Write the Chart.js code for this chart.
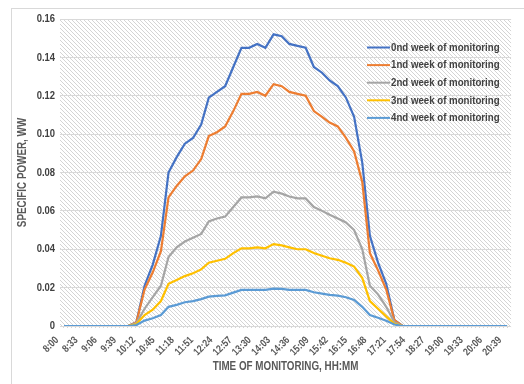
<!DOCTYPE html>
<html>
<head>
<meta charset="utf-8">
<script src="https://cdn.jsdelivr.net/npm/chart.js@4.4.1/dist/chart.umd.min.js"></script>
<style>
  html, body { margin: 0; padding: 0; background: #ffffff; }
  body { width: 524px; height: 384px; position: relative; overflow: hidden; }
  #frame { position: absolute; left: 11px; top: 8px; width: 600px; height: 500px; border: 1px solid #d9d9d9; box-sizing: border-box; }
  #wrap { position: absolute; left: 0; top: 0; width: 524px; height: 384px; }
</style>
</head>
<body>
<div id="frame"></div>
<div id="wrap"><canvas id="chart" width="524" height="384"></canvas></div>
<script>
// Sampling times of the logger (HH:MM)
const times = [
  "8:00","8:14","8:28","8:41","8:55","9:09","9:23","9:37","9:50","10:04",
  "10:18","10:32","10:46","10:59","11:13","11:27","11:41","11:55","12:08","12:22",
  "12:36","12:50","13:04","13:17","13:31","13:45","13:59","14:13","14:26","14:40",
  "14:54","15:08","15:22","15:35","15:49","16:03","16:17","16:31","16:44","16:58",
  "17:12","17:26","17:40","17:53","18:07","18:21","18:35","18:49","19:02","19:16",
  "19:30","19:44","19:58","20:11","20:25","20:39"
];

// Axis labels shown under the chart
const tickLabels = [
  "8:00","8:33","9:06","9:39","10:12","10:45","11:18","11:51","12:24","12:57",
  "13:30","14:03","14:36","15:09","15:42","16:15","16:48","17:21","17:54","18:27",
  "19:00","19:33","20:06","20:39"
];

const seriesNames = [
  "0nd week of monitoring",
  "1nd week of monitoring",
  "2nd week of monitoring",
  "3nd week of monitoring",
  "4nd week of monitoring"
];

// Specific power
const week0 = [0,0,0,0,0,0,0,0,0,
  0.002,0.021,0.032,0.047,0.080,0.088,0.095,0.098,0.105,0.119,0.122,
  0.125,0.135,0.145,0.145,0.147,0.145,0.152,0.151,0.147,0.146,0.145,
  0.135,0.132,0.128,0.125,0.119,0.109,0.085,0.047,0.033,0.022,0.003,
  0,0,0,0,0,0,0,0,0,0,0,0,0,0];
const week1 = [0,0,0,0,0,0,0,0,0,
  0.002,0.019,0.028,0.039,0.067,0.073,0.078,0.081,0.087,0.099,0.101,
  0.104,0.112,0.121,0.121,0.122,0.120,0.126,0.125,0.122,0.121,0.120,
  0.112,0.109,0.106,0.104,0.098,0.091,0.075,0.038,0.029,0.019,0.003,
  0,0,0,0,0,0,0,0,0,0,0,0,0,0];
const week2 = [0,0,0,0,0,0,0,0,0,
  0.0015,0.009,0.015,0.021,0.036,0.041,0.044,0.046,0.048,0.0545,0.056,
  0.057,0.062,0.067,0.067,0.0675,0.0665,0.070,0.069,0.0675,0.0665,0.0665,
  0.062,0.060,0.058,0.056,0.054,0.050,0.040,0.021,0.0165,0.010,0.002,
  0,0,0,0,0,0,0,0,0,0,0,0,0,0];
const week3 = [0,0,0,0,0,0,0,0,0,
  0.001,0.0057,0.0085,0.013,0.022,0.024,0.026,0.0275,0.0295,0.033,0.034,
  0.035,0.038,0.0405,0.0405,0.041,0.0405,0.0427,0.042,0.041,0.040,0.040,
  0.038,0.0366,0.0353,0.0345,0.033,0.031,0.025,0.013,0.009,0.005,0.0012,
  0,0,0,0,0,0,0,0,0,0,0,0,0,0];
const week4 = [0,0,0,0,0,0,0,0,0,
  0.0005,0.0028,0.004,0.0057,0.010,0.011,0.0124,0.013,0.014,0.0153,0.0157,
  0.016,0.0174,0.0188,0.0188,0.0188,0.0188,0.0195,0.0193,0.0188,0.0188,0.0188,
  0.0176,0.0169,0.0162,0.0158,0.015,0.0136,0.010,0.0057,0.0043,0.0027,0.0008,
  0,0,0,0,0,0,0,0,0,0,0,0,0,0];

const seriesValues = [week0, week1, week2, week3, week4];
const seriesColors = ["#4472C4", "#ED7D31", "#A5A5A5", "#FFC000", "#5B9BD5"];

// minutes after 8:00
function toMinutes(t) {
  const [h, m] = t.split(":").map(Number);
  return h * 60 + m - 480;
}

// Condensed lettering: a narrow face if the system has one,
// otherwise the regular face squeezed along its baseline.
function hasFont(name) {
  const c = document.createElement("canvas").getContext("2d");
  const probe = "MMMWWWiiilll000";
  c.font = "20px monospace";
  const a = c.measureText(probe).width;
  c.font = '20px "' + name + '", monospace';
  return c.measureText(probe).width !== a;
}
const NARROW = hasFont("Liberation Sans Narrow");
const FAMILY = NARROW ? '"Liberation Sans Narrow", "Arial Narrow", sans-serif'
                      : '"Liberation Sans", Arial, sans-serif';
const SQUEEZE = NARROW ? 1 : 0.82;
const TEXT = "#595959";

function condenseText(ctx, k) {
  if (k === 1) return;
  const fill = ctx.fillText;
  ctx.fillText = function (text, x, y, maxWidth) {
    this.save();
    this.translate(x, y);
    this.scale(k, 1);
    if (maxWidth === undefined) fill.call(this, text, 0, 0);
    else fill.call(this, text, 0, 0, maxWidth / k);
    this.restore();
  };
}

// diagonal hatch for the plot background
function hatchPattern(ctx) {
  const tile = document.createElement("canvas");
  tile.width = 4; tile.height = 4;
  const t = tile.getContext("2d");
  t.fillStyle = "#ffffff";
  t.fillRect(0, 0, 4, 4);
  t.fillStyle = "#d4d4d4";
  for (let i = 0; i < 4; i++) t.fillRect(i, i, 1, 1);
  return ctx.createPattern(tile, "repeat");
}

const plotBackground = {
  id: "plotBackground",
  beforeDraw(chart) {
    const { ctx, chartArea: a } = chart;
    ctx.save();
    ctx.fillStyle = hatchPattern(ctx);
    ctx.fillRect(a.left, a.top, a.right - a.left, a.bottom - a.top + 2);
    ctx.restore();
  }
};

// legend placed inside the plot, upper right
const insideLegend = {
  id: "insideLegend",
  afterDraw(chart) {
    const { ctx } = chart;
    const x0 = 367, lineLen = 23, y0 = 47.5, step = 17.6;
    ctx.save();
    ctx.font = "bold 11.8px " + FAMILY;
    ctx.textBaseline = "middle";
    ctx.textAlign = "left";
    seriesNames.forEach((name, i) => {
      const y = y0 + i * step;
      ctx.strokeStyle = seriesColors[i];
      ctx.lineWidth = 2;
      ctx.beginPath();
      ctx.moveTo(x0, y);
      ctx.lineTo(x0 + lineLen, y);
      ctx.stroke();
      ctx.fillStyle = "#404040";
      ctx.fillText(name, x0 + lineLen + 1, y);
    });
    ctx.restore();
  }
};

const datasets = seriesNames.map((name, i) => ({
  label: name,
  data: times.map((t, k) => ({ x: toMinutes(t), y: seriesValues[i][k] })),
  borderColor: seriesColors[i],
  backgroundColor: seriesColors[i],
  borderWidth: 2.2,
  pointRadius: 0,
  tension: 0,
  fill: false,
  order: seriesNames.length - i
}));

const canvas = document.getElementById("chart");
condenseText(canvas.getContext("2d"), SQUEEZE);

new Chart(canvas, {
  type: "line",
  data: { datasets },
  plugins: [plotBackground, insideLegend],
  options: {
    responsive: false,
    animation: false,
    events: [],
    layout: { padding: { top: 19, right: 5, left: 0, bottom: 0 } },
    plugins: { legend: { display: false }, tooltip: { enabled: false } },
    scales: {
      x: {
        type: "linear",
        min: -6.9,
        max: 765.9,
        afterBuildTicks(scale) {
          scale.ticks = tickLabels.map(t => ({ value: toMinutes(t) }));
        },
        afterFit(scale) { scale.height = 58; },
        grid: { display: false, drawTicks: false },
        border: { display: false },
        ticks: {
          autoSkip: false,
          minRotation: 45,
          maxRotation: 45,
          padding: 8,
          labelOffset: -7,
          color: TEXT,
          font: { family: FAMILY, size: 10.5, weight: "bold" },
          callback: (v, i) => tickLabels[i]
        },
        title: {
          display: true,
          text: "TIME OF MONITORING, HH:MM",
          color: TEXT,
          font: { family: FAMILY, size: 12, weight: "bold" },
          padding: { top: 0, bottom: 10 }
        }
      },
      y: {
        min: 0,
        max: 0.16,
        afterFit(scale) { scale.width = 60; },
        grid: { color: "#d9d9d9", lineWidth: 1, drawTicks: false },
        border: { display: false },
        ticks: {
          stepSize: 0.02,
          padding: 5,
          color: "#404040",
          font: { family: FAMILY, size: 11.5, weight: "bold" },
          callback: v => (Math.abs(v) < 1e-9 ? "0" : v.toFixed(2))
        },
        title: {
          display: true,
          text: "SPECIFIC POWER, WW",
          color: TEXT,
          font: { family: FAMILY, size: 12, weight: "bold" },
          padding: { top: 15, bottom: 0 }
        }
      }
    }
  }
});
</script>
</body>
</html>
